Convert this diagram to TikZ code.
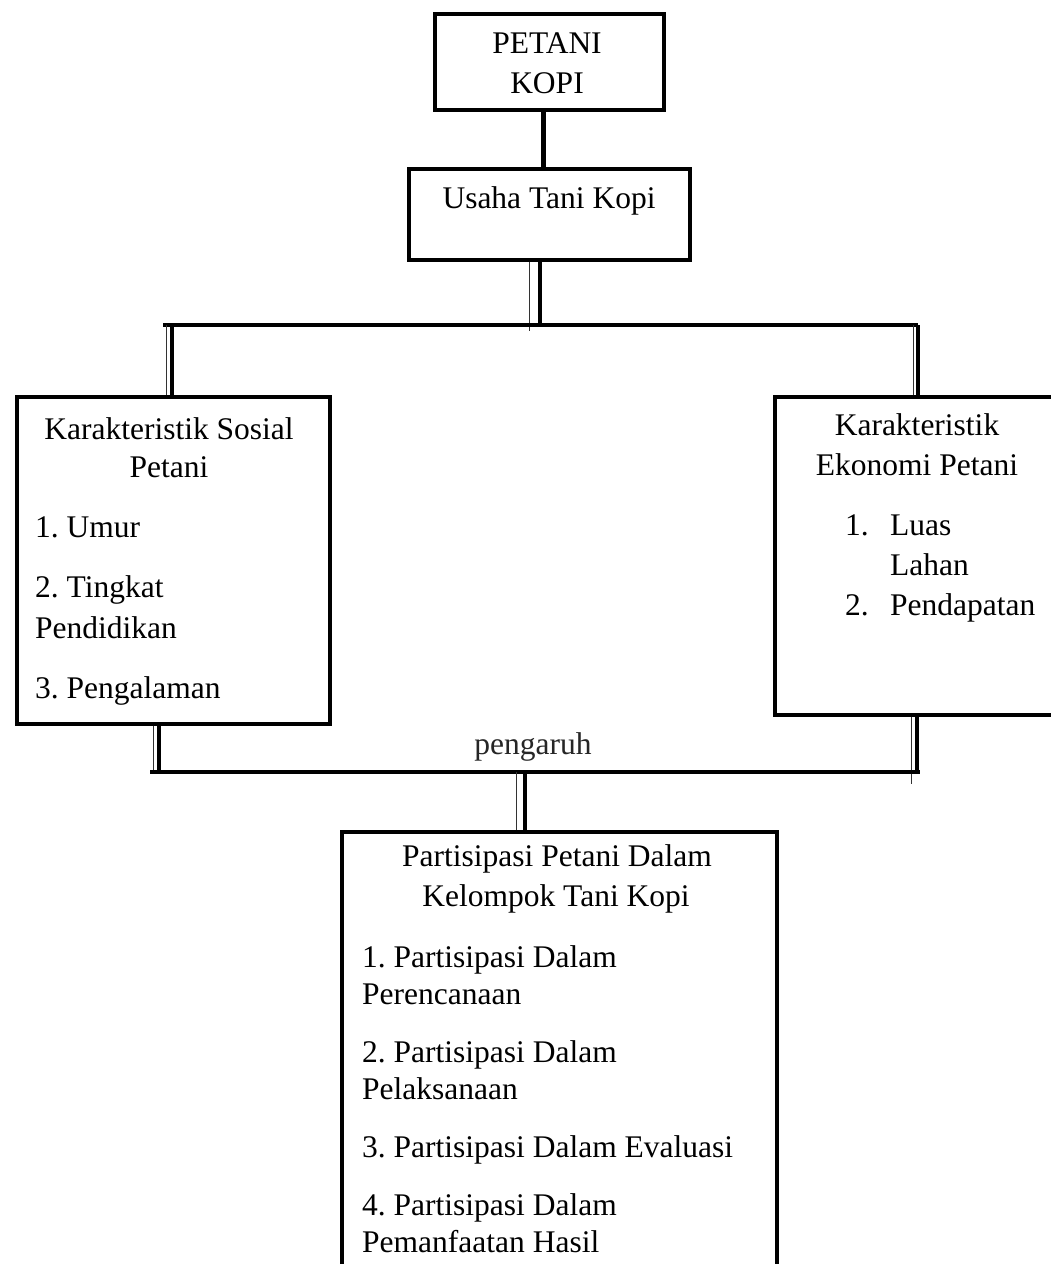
\documentclass[tikz,border=0pt]{standalone}
\usepackage{fontspec}
\setmainfont{Liberation Serif}
\frenchspacing
\begin{document}
\begin{tikzpicture}[x=1pt,y=-1pt,
  font=\fontsize{31.5}{36}\selectfont\frenchspacing,
  boxstyle/.style={draw, line width=3.5pt, rectangle, inner sep=0pt, anchor=north west},
  txt/.style={inner sep=0pt, anchor=base},
  txtl/.style={inner sep=0pt, anchor=base west},
  thickline/.style={line width=3.8pt},
  thinline/.style={line width=1.3pt, black!80}]
\useasboundingbox (0,0) rectangle (1050,1264);
\fill[white] (0,0) rectangle (1050,1264);

% boxes
\node[boxstyle, minimum width=229pt, minimum height=96pt] (petani) at (433,12) {};
\node[boxstyle, minimum width=281pt, minimum height=91pt] (usaha) at (407,167) {};
\node[boxstyle, minimum width=313pt, minimum height=327pt] (kar1) at (15,395) {};
\node[boxstyle, minimum width=287pt, minimum height=318pt] (kar2) at (773,395) {};
\node[boxstyle, minimum width=435pt, minimum height=450pt] (part) at (340,830) {};

% texts
\node[txt] (tpetani) at (547,53) {PETANI};
\node[txt] (tkopi) at (547,93) {KOPI};
\node[txt] (tusaha) at (549,208) {Usaha Tani Kopi};

\node[txt] (k1a) at (169,439) {Karakteristik Sosial};
\node[txt] (k1b) at (169,477) {Petani};
\node[txtl] (k1c) at (35,537) {1. Umur};
\node[txtl] (k1d) at (35,597) {2. Tingkat};
\node[txtl] (k1e) at (35,638) {Pendidikan};
\node[txtl] (k1f) at (35,698) {3. Pengalaman};

\node[txt] (k2a) at (917,435) {Karakteristik};
\node[txt] (k2b) at (917,475) {Ekonomi Petani};
\node[txtl] (k2c) at (845,535) {1.};
\node[txtl] (k2d) at (890,535) {Luas};
\node[txtl] (k2e) at (890,575) {Lahan};
\node[txtl] (k2f) at (845,615) {2.};
\node[txtl] (k2g) at (890,615) {Pendapatan};

\node[txt, black!85] (peng) at (533,754) {pengaruh};

\node[txt] (p1) at (557,866) {Partisipasi Petani Dalam};
\node[txt] (p2) at (556,906) {Kelompok Tani Kopi};
\node[txtl] (p3) at (362,967) {1. Partisipasi Dalam};
\node[txtl] (p4) at (362,1004) {Perencanaan};
\node[txtl] (p5) at (362,1062) {2. Partisipasi Dalam};
\node[txtl] (p6) at (362,1099) {Pelaksanaan};
\node[txtl] (p7) at (362,1157) {3. Partisipasi Dalam Evaluasi};
\node[txtl] (p8) at (362,1215) {4. Partisipasi Dalam};
\node[txtl] (p9) at (362,1252) {Pemanfaatan Hasil};

% junction coordinates
\coordinate (topL) at (163,325);
\coordinate (topR) at (918,325);
\coordinate (botL) at (150,772);
\coordinate (botR) at (920,772);

% connectors
\draw[line width=5pt] ([xshift=-5.5pt]petani.south) -- ([xshift=-5.5pt]petani.south |- usaha.north);
\draw[thickline] ([xshift=-9.5pt]usaha.south) -- ([xshift=-9.5pt]usaha.south |- topL);
\draw[thinline] ([xshift=-19.5pt]usaha.south) -- ([xshift=-19.5pt,yshift=-6pt]usaha.south |- topL);
\draw[thickline] (topL) -- (topR);
\draw[thickline] ([xshift=-1.5pt]kar1.north |- topL) -- ([xshift=-1.5pt]kar1.north);
\draw[thinline] ([xshift=-7pt]kar1.north |- topL) -- ([xshift=-7pt]kar1.north);
\draw[thickline] (kar2.north |- topR) -- (kar2.north);
\draw[thinline] ([xshift=-5pt]kar2.north |- topR) -- ([xshift=-5pt]kar2.north);

\draw[thickline] ([xshift=-14.5pt]kar1.south) -- ([xshift=-14.5pt]kar1.south |- botL);
\draw[thinline] ([xshift=-19.5pt]kar1.south) -- ([xshift=-19.5pt]kar1.south |- botL);
\draw[thickline] ([xshift=-1.5pt]kar2.south) -- ([xshift=-1.5pt]kar2.south |- botR);
\draw[thinline] ([xshift=-7pt]kar2.south) -- ([xshift=-7pt,yshift=-12pt]kar2.south |- botR);
\draw[thickline] (botL) -- (botR);
\draw[thickline] ([xshift=-34.5pt]part.north |- botR) -- ([xshift=-34.5pt]part.north);
\draw[thinline] ([xshift=-42.5pt]part.north |- botR) -- ([xshift=-42.5pt]part.north);
\end{tikzpicture}
\end{document}
